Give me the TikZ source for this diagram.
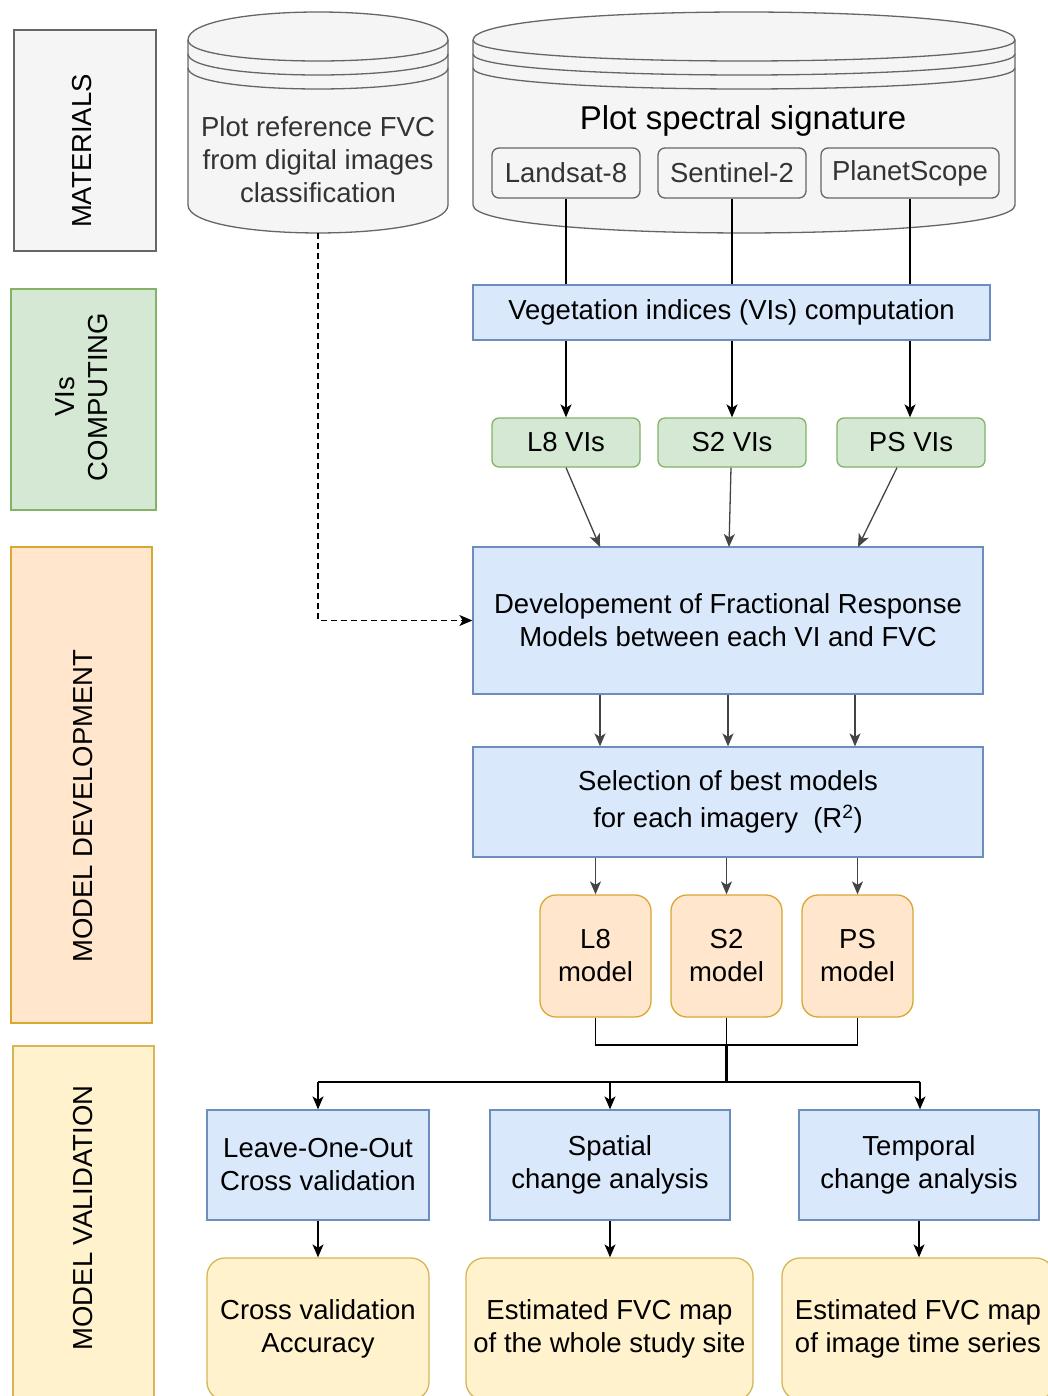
\documentclass[tikz,border=0pt]{standalone}
\usepackage{fontspec}
\setmainfont{Liberation Sans}
\usetikzlibrary{arrows.meta,calc}
\definecolor{grayfill}{HTML}{F5F5F5}
\definecolor{graystroke}{HTML}{666666}
\definecolor{graytext}{HTML}{333333}
\definecolor{bluefill}{HTML}{DAE8FC}
\definecolor{bluestroke}{HTML}{6C8EBF}
\definecolor{greenfill}{HTML}{D5E8D4}
\definecolor{greenstroke}{HTML}{82B366}
\definecolor{orangefill}{HTML}{FFE6CC}
\definecolor{orangestroke}{HTML}{D9A830}
\definecolor{yellowfill}{HTML}{FFF2CC}
\definecolor{yellowstroke}{HTML}{D6B656}
\definecolor{edgegray}{HTML}{444444}
\newcommand\fsz{\fontsize{27.5pt}{33pt}\selectfont}
\newcommand\fszbig{\fontsize{33pt}{40pt}\selectfont}
\tikzset{
  base/.style={draw, line width=1.3pt, inner sep=0pt, font=\fsz, align=center, text=black},
  sz/.style 2 args={minimum width=#1pt, minimum height=#2pt},
  graybox/.style={base, fill=grayfill, draw=graystroke, text=graytext},
  bluebox/.style={base, fill=bluefill, draw=bluestroke},
  greenbox/.style={base, fill=greenfill, draw=greenstroke},
  orangebox/.style={base, fill=orangefill, draw=orangestroke},
  yellowbox/.style={base, fill=yellowfill, draw=yellowstroke},
  cyl/.style={draw=graystroke, fill=grayfill, line width=1.3pt},
  cylline/.style={draw=graystroke, line width=1.3pt},
  sidelabel/.style={font=\fsz, align=center, rotate=90, text=black, inner sep=0pt},
  arr/.style={-{Stealth[length=13pt,width=11pt,inset=3.5pt]}, line width=1.3pt},
  garr/.style={arr, draw=edgegray},
  conn/.style={line width=1.3pt},
}
\begin{document}
\begin{tikzpicture}[x=1pt,y=-1pt]
\useasboundingbox (0,0) rectangle (1048,1396);
\clip (0,0) rectangle (1048,1396);
\fill[white] (0,0) rectangle (1048,1396);

% side phase boxes
\node[graybox, sz={142}{221}] (mat) at (85,140.5) {};
\node[sidelabel] (matl) at (82,151) {MATERIALS};
\node[greenbox, sz={145}{221}] (vis) at (83.5,399.5) {};
\node[sidelabel] (visl) at (82,397) {VIs\\COMPUTING};
\node[orangebox, sz={141}{476}] (mdev) at (81.5,785) {};
\node[sidelabel] (mdevl) at (83,806) {MODEL DEVELOPMENT};
\node[yellowbox, sz={141}{374}] (mval) at (83.5,1233) {};
\node[sidelabel] (mvall) at (83,1218) {MODEL VALIDATION};

% cylinder 1
\path[cyl] (188,40) .. controls (188,2.67) and (448,2.67) .. (448,40)
  -- (448,205) .. controls (448,242.3) and (188,242.3) .. (188,205) -- cycle;
\draw[cylline] (188,40) .. controls (188,68) and (448,68) .. (448,40);
\draw[cylline] (188,54) .. controls (188,82) and (448,82) .. (448,54);
\draw[cylline] (188,68) .. controls (188,96) and (448,96) .. (448,68);
\node[font=\fsz, align=center, text=graytext, inner sep=0pt] (c1t) at (318,160)
  {Plot reference FVC\\from digital images\\classification};
\coordinate (c1b) at (318,233);

% cylinder 2
\path[cyl] (473,40) .. controls (473,2.67) and (1015,2.67) .. (1015,40)
  -- (1015,205) .. controls (1015,242.3) and (473,242.3) .. (473,205) -- cycle;
\draw[cylline] (473,40) .. controls (473,68) and (1015,68) .. (1015,40);
\draw[cylline] (473,54) .. controls (473,82) and (1015,82) .. (1015,54);
\draw[cylline] (473,68) .. controls (473,96) and (1015,96) .. (1015,68);
\node[font=\fszbig, text=black, inner sep=0pt] (c2t) at (743,121) {Plot spectral signature};

% satellite boxes
\node[graybox, sz={148}{50}, rounded corners=7pt] (land) at (566,173) {Landsat-8};
\node[graybox, sz={148}{50}, rounded corners=7pt] (sent) at (732,173) {Sentinel-2};
\node[graybox, sz={178}{50}, rounded corners=7pt] (planet) at (910,173) {PlanetScope};

% VI computation
\node[bluebox, sz={517}{55}] (vicomp) at (731.5,312.5) {Vegetation indices (VIs) computation};
\draw[conn] (land.south) -- (land.south |- vicomp.north);
\draw[conn] (sent.south) -- (sent.south |- vicomp.north);
\draw[conn] (planet.south) -- (planet.south |- vicomp.north);

% VI boxes
\node[greenbox, sz={148}{49}, rounded corners=7pt] (l8vi) at (566,442.5) {L8 VIs};
\node[greenbox, sz={148}{49}, rounded corners=7pt] (s2vi) at (732,442.5) {S2 VIs};
\node[greenbox, sz={148}{49}, rounded corners=7pt] (psvi) at (911,442.5) {PS VIs};
\draw[arr] (vicomp.south -| l8vi) -- (l8vi.north);
\draw[arr] (vicomp.south -| s2vi) -- (s2vi.north);
\draw[arr] ([xshift=-1pt]vicomp.south -| psvi) -- ([xshift=-1pt]psvi.north);

% FRM
\node[bluebox, sz={510}{147}] (frm) at (728,620.5)
  {Developement of Fractional Response\\Models between each VI and FVC};
\coordinate (f1) at (600,547);
\coordinate (f2) at (729,547);
\coordinate (f3) at (858,547);
\draw[garr] (l8vi.south) -- (f1);
\draw[garr] ([xshift=-1pt]s2vi.south) -- (f2);
\draw[garr] ([xshift=-14pt]psvi.south) -- (f3);
\draw[arr, dashed, dash pattern=on 6pt off 4pt] (c1b) |- (frm.west);

% selection
\node[bluebox, sz={510}{110}] (sel) at (728,802)
  {Selection of best models\\[4pt] for each imagery~~(R\textsuperscript{2})};
\draw[garr] (frm.south -| f1) -- (sel.north -| f1);
\draw[garr] (frm.south -| 728,0) -- (sel.north -| 728,0);
\draw[garr] (frm.south -| 855,0) -- (sel.north -| 855,0);

% models
\node[orangebox, sz={111}{122}, rounded corners=16pt] (l8m) at (595.5,956) {L8\\model};
\node[orangebox, sz={111}{122}, rounded corners=16pt] (s2m) at (726.5,956) {S2\\model};
\node[orangebox, sz={111}{122}, rounded corners=16pt] (psm) at (857.5,956) {PS\\model};
\draw[garr] (sel.south -| l8m) -- (l8m.north);
\draw[garr] (sel.south -| s2m) -- (s2m.north);
\draw[garr] (sel.south -| psm) -- (psm.north);

% junction
\coordinate (jm) at (726.5,1045);
\coordinate (hl) at (318,1082);
\coordinate (hr) at (920,1082);
\draw[conn] (l8m.south) |- (jm) -| (psm.south);
\draw[conn] (s2m.south) -- (jm);
\draw[line width=2.8pt] (jm) -- (jm |- hl);
\draw[conn] (hl) -- (hr);

% validation boxes
\node[bluebox, sz={222}{110}] (loo) at (318,1165) {Leave-One-Out\\Cross validation};
\node[bluebox, sz={240}{110}] (spat) at (610,1165) {Spatial\\change analysis};
\node[bluebox, sz={240}{110}] (temp) at (919,1165) {Temporal\\change analysis};
\draw[arr] (hl) -- (loo.north);
\draw[arr] (hl -| spat) -- (spat.north);
\draw[arr] (hr) -- (hr |- temp.north);

% results
\node[yellowbox, sz={222}{142}, rounded corners=18pt] (cva) at (318,1329) {Cross validation\\Accuracy};
\node[yellowbox, sz={287}{142}, rounded corners=18pt] (est1) at (609.5,1329) {Estimated FVC map\\of the whole study site};
\node[yellowbox, sz={272}{142}, rounded corners=18pt] (est2) at (918,1329) {Estimated FVC map\\of image time series};
\draw[arr] (loo.south) -- (cva.north);
\draw[arr] (spat.south) -- (spat.south |- est1.north);
\draw[arr] (temp.south) -- (temp.south |- est2.north);
\end{tikzpicture}
\end{document}
